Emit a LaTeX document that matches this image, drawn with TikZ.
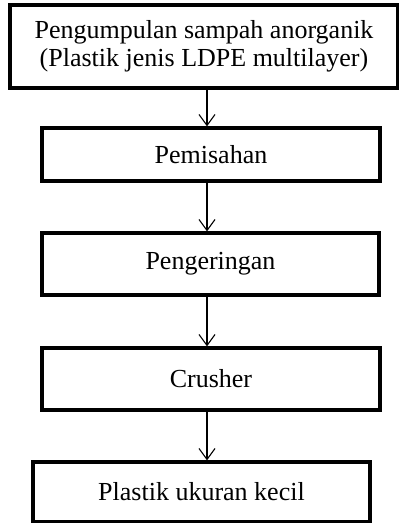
\documentclass[tikz,border=0pt]{standalone}
\usepackage{fontspec}
\setmainfont{Liberation Serif}
\usepackage{xcolor}
\usetikzlibrary{arrows.meta}
\definecolor{fblack}{HTML}{000000}

\begin{document}
\begin{tikzpicture}[x=1pt, y=-1pt,
		stepbox/.style={draw=fblack, line width=3.2pt, inner sep=0pt, align=center, font=\fontsize{26}{28}\selectfont},
		flow/.style={draw=fblack, line width=1.1pt, -{Straight Barb[length=11pt, width=16pt, line width=1.1pt]}}]
		\useasboundingbox (0,0) rectangle (399,523);
		\node[stepbox, minimum width=388pt, minimum height=83pt] (pengumpulan) at (204,46.5) {Pengumpulan sampah anorganik\\(Plastik jenis LDPE multilayer)};
		\node[stepbox, minimum width=338pt, minimum height=53pt] (pemisahan) at (211,154.5) {Pemisahan};
		\node[stepbox, minimum width=337pt, minimum height=62pt] (pengeringan) at (210.5,264) {Pengeringan};
		\node[stepbox, minimum width=338pt, minimum height=62pt] (crusher) at (211,379) {Crusher};
		\node[stepbox, minimum width=337pt, minimum height=60pt] (hasil) at (201.5,492) {Plastik ukuran kecil};
		\coordinate (ax) at (207,0);
		\draw[flow] (pengumpulan.south -| ax) -- (pemisahan.north -| ax);
		\draw[flow] (pemisahan.south -| ax) -- (pengeringan.north -| ax);
		\draw[flow] (pengeringan.south -| ax) -- (crusher.north -| ax);
		\draw[flow] (crusher.south -| ax) -- (hasil.north -| ax);
	\end{tikzpicture}
\end{document}
